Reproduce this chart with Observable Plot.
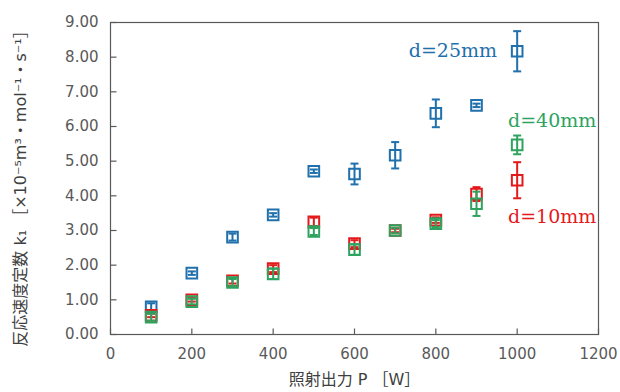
<!DOCTYPE html>
<html><head><meta charset="utf-8">
<script src="https://cdn.jsdelivr.net/npm/d3@7"></script>
<script src="https://cdn.jsdelivr.net/npm/@observablehq/plot@0.6"></script>
<style>body{margin:0;background:#fff}</style>
</head><body><div id="chart"></div>
<script>
const power = [100, 200, 300, 400, 500, 600, 700, 800, 900, 1000];
const k_d25 = [0.80, 1.77, 2.81, 3.45, 4.71, 4.63, 5.17, 6.38, 6.61, 8.17];
const e_d25 = [0.10, 0.05, 0.10, 0.05, 0.05, 0.30, 0.38, 0.40, 0.05, 0.58];
const k_d10 = [0.55, 1.00, 1.55, 1.90, 3.25, 2.62, 3.00, 3.30, 4.05, 4.45];
const e_d10 = [0.05, 0.05, 0.08, 0.10, 0.12, 0.10, 0.05, 0.08, 0.20, 0.52];
const k_d40 = [0.50, 0.95, 1.50, 1.75, 2.97, 2.45, 3.00, 3.20, 3.77, 5.47];
const e_d40 = [0.10, 0.08, 0.10, 0.15, 0.10, 0.15, 0.08, 0.10, 0.35, 0.27];
const seriesNames = ["d=25mm", "d=10mm", "d=40mm"];
const seriesColors = ["#1f70ad", "#e31a1c", "#2ea35f"];
const labelP = [842, 1086, 1086];
const labelK = [8.19, 3.40, 6.17];
const xTicks = [0, 200, 400, 600, 800, 1000, 1200];
const yTicks = [0, 1, 2, 3, 4, 5, 6, 7, 8, 9];
const xLabel = "照射出力 P ［W］";
const yLabel = "反応速度定数 k₁ ［×10⁻⁵m³・mol⁻¹・s⁻¹］";

const values = [k_d25, k_d10, k_d40];
const errors = [e_d25, e_d10, e_d40];
const series = seriesNames.map((name, s) => power.map((p, i) => ({series: name, p, k: values[s][i], e: errors[s][i]})));
const annotations = seriesNames.map((name, s) => ({series: name, p: labelP[s], k: labelK[s]}));

const capSymbol = {draw(ctx) { ctx.moveTo(-4, 0); ctx.lineTo(4, 0); }};
const tickRight = {draw(ctx) { ctx.moveTo(0, 0); ctx.lineTo(6, 0); }};
const tickUp = {draw(ctx) { ctx.moveTo(0, 0); ctx.lineTo(0, -6); }};

const marks = [Plot.frame({stroke: "#595959", strokeWidth: 1.2})];
for (const rows of series) {
  marks.push(
    Plot.ruleX(rows, {x: "p", y1: d => d.k - d.e, y2: d => d.k + d.e, stroke: "series", strokeWidth: 2}),
    Plot.dot(rows, {x: "p", y: d => d.k + d.e, symbol: capSymbol, stroke: "series", strokeWidth: 2}),
    Plot.dot(rows, {x: "p", y: d => d.k - d.e, symbol: capSymbol, stroke: "series", strokeWidth: 2}),
    Plot.dot(rows, {x: "p", y: "k", symbol: "square", r: 6, stroke: "series", fill: "none", strokeWidth: 2})
  );
}
marks.push(
  Plot.text(annotations, {x: "p", y: "k", text: "series", fill: "series", fontSize: 19, fontFamily: "'DejaVu Serif', serif"}),
  Plot.dot(yTicks, {x: xTicks[0], y: d => d, symbol: tickRight, stroke: "#595959", strokeWidth: 1.2}),
  Plot.dot(xTicks, {x: d => d, y: yTicks[0], symbol: tickUp, stroke: "#595959", strokeWidth: 1.2}),
  Plot.axisY({ticks: yTicks, tickFormat: d3.format(".2f"), tickSize: 0, tickPadding: 12, label: null, fontSize: 15}),
  Plot.axisX({ticks: xTicks, tickFormat: d => String(d), tickSize: 0, tickPadding: 14, label: null, fontSize: 15}),
  Plot.text([yLabel], {frameAnchor: "left", textAnchor: "middle", dx: -90, dy: 6, rotate: -90, fontSize: 16, fill: "#404040"}),
  Plot.text([xLabel], {frameAnchor: "bottom", dy: 50, fontSize: 16, fill: "#404040"})
);

const chart = Plot.plot({
  width: 620, height: 392,
  marginLeft: 110, marginRight: 22, marginTop: 22, marginBottom: 58,
  x: {domain: [0, 1200]},
  y: {domain: [0, 9]},
  color: {domain: seriesNames, range: seriesColors},
  style: {fontFamily: "'DejaVu Sans', 'Noto Sans CJK JP', sans-serif", color: "#595959", background: "#fff"},
  marks
});
document.getElementById("chart").appendChild(chart);
</script>
</body></html>
